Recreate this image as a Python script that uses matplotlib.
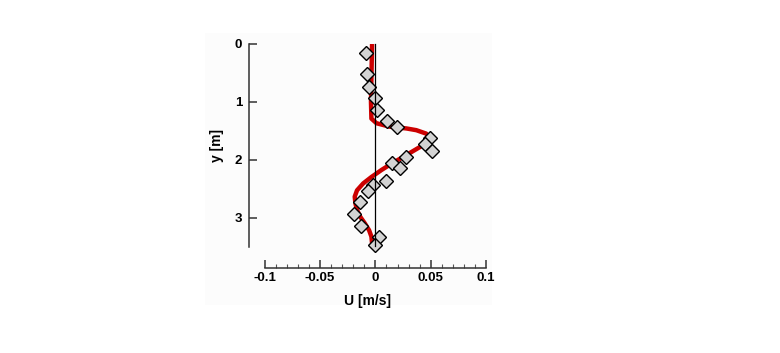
import matplotlib
matplotlib.use("Agg")
import matplotlib.pyplot as plt
from matplotlib.patches import Rectangle
from matplotlib.ticker import FixedLocator

# simulated profile (red curve)
curve_y = [0.0, 1.0, 1.29, 1.37, 1.43, 1.46, 1.49, 1.55, 1.63, 1.75, 1.92, 2.07,
           2.18, 2.30, 2.41, 2.53, 2.64, 2.76, 2.87, 2.99, 3.10, 3.22, 3.33, 3.45]
curve_u = [-0.003, -0.004, -0.0036, 0.001, 0.013, 0.028, 0.037, 0.046, 0.049, 0.043,
           0.028, 0.0145, 0.0054, -0.0036, -0.011, -0.0166, -0.0187, -0.018, -0.0166,
           -0.0136, -0.0096, -0.0057, -0.0036, -0.003]

# measurements (diamonds)
meas_y = [0.15, 0.525, 0.75, 0.94, 1.14, 1.33, 1.44, 1.63, 1.73, 1.85, 1.95,
          2.05, 2.15, 2.37, 2.43, 2.54, 2.74, 2.94, 3.14, 3.34, 3.48]
meas_u = [-0.0081, -0.0075, -0.006, 0.0, 0.0015, 0.0108, 0.0199, 0.049, 0.045, 0.051,
          0.028, 0.015, 0.022, 0.010, -0.002, -0.0066, -0.014, -0.0196, -0.0127, 0.003, 0.0]

x_ticks = [-0.1, -0.05, 0, 0.05, 0.1]
x_ticklabels = ["-0.1", "-0.05", "0", "0.05", "0.1"]
x_minor = [-0.09, -0.08, -0.07, -0.06, -0.04, -0.03, -0.02, -0.01,
           0.01, 0.02, 0.03, 0.04, 0.06, 0.07, 0.08, 0.09]
y_ticks = [0, 1, 2, 3]

font = {"family": "Liberation Sans", "weight": "bold"}

fig = plt.figure(figsize=(7.8, 3.53), dpi=100)
fig.patches.append(Rectangle((205 / 780, 1 - 305 / 353), 287 / 780, 272 / 353,
                             transform=fig.transFigure, facecolor="#fcfcfc",
                             edgecolor="none", zorder=-5))
ax = fig.add_axes([249.3 / 780, 1 - 247 / 353, 236.7 / 780, 203 / 353])
ax.patch.set_alpha(0)

ax.plot(curve_u, curve_y, color="#cc0000", lw=3.2, zorder=2, solid_capstyle="butt")
ax.plot(meas_u, meas_y, "D", ms=7.2, mfc="#d3d3d3", mec="black", mew=1.0,
        zorder=3, clip_on=False)
ax.plot([0, 0], [0, 3.5], color="black", lw=0.9, zorder=4, clip_on=False)

ax.set_xlim(-0.114, 0.1)
ax.set_ylim(3.51, 0)

for s in ["top", "right"]:
    ax.spines[s].set_visible(False)
ax.spines["left"].set_bounds(0, 3.51)
ax.spines["bottom"].set_bounds(-0.1, 0.1)
ax.spines["bottom"].set_position(("outward", 15))
for s in ["left", "bottom"]:
    ax.spines[s].set_color("#333333")
    ax.spines[s].set_linewidth(1.1)

ax.set_xticks(x_ticks)
ax.set_xticklabels(x_ticklabels)
ax.xaxis.set_minor_locator(FixedLocator(x_minor))
ax.set_yticks(y_ticks)
ax.tick_params(axis="both", which="major", direction="in", length=6, width=1.1,
               color="#333333", pad=5)
ax.tick_params(axis="x", which="major", pad=3)
ax.tick_params(axis="x", which="minor", direction="in", length=3, width=0.8, color="#555555")
for lab in ax.get_xticklabels() + ax.get_yticklabels():
    lab.set_fontsize(9.5)
    lab.set_fontfamily(font["family"])
    lab.set_fontweight("bold")

ax.set_xlabel("U [m/s]", fontsize=10, labelpad=7, **font)
ax.set_ylabel("y [m]", fontsize=10, labelpad=8, **font)

fig.savefig("out.png", dpi=100, facecolor="white")
